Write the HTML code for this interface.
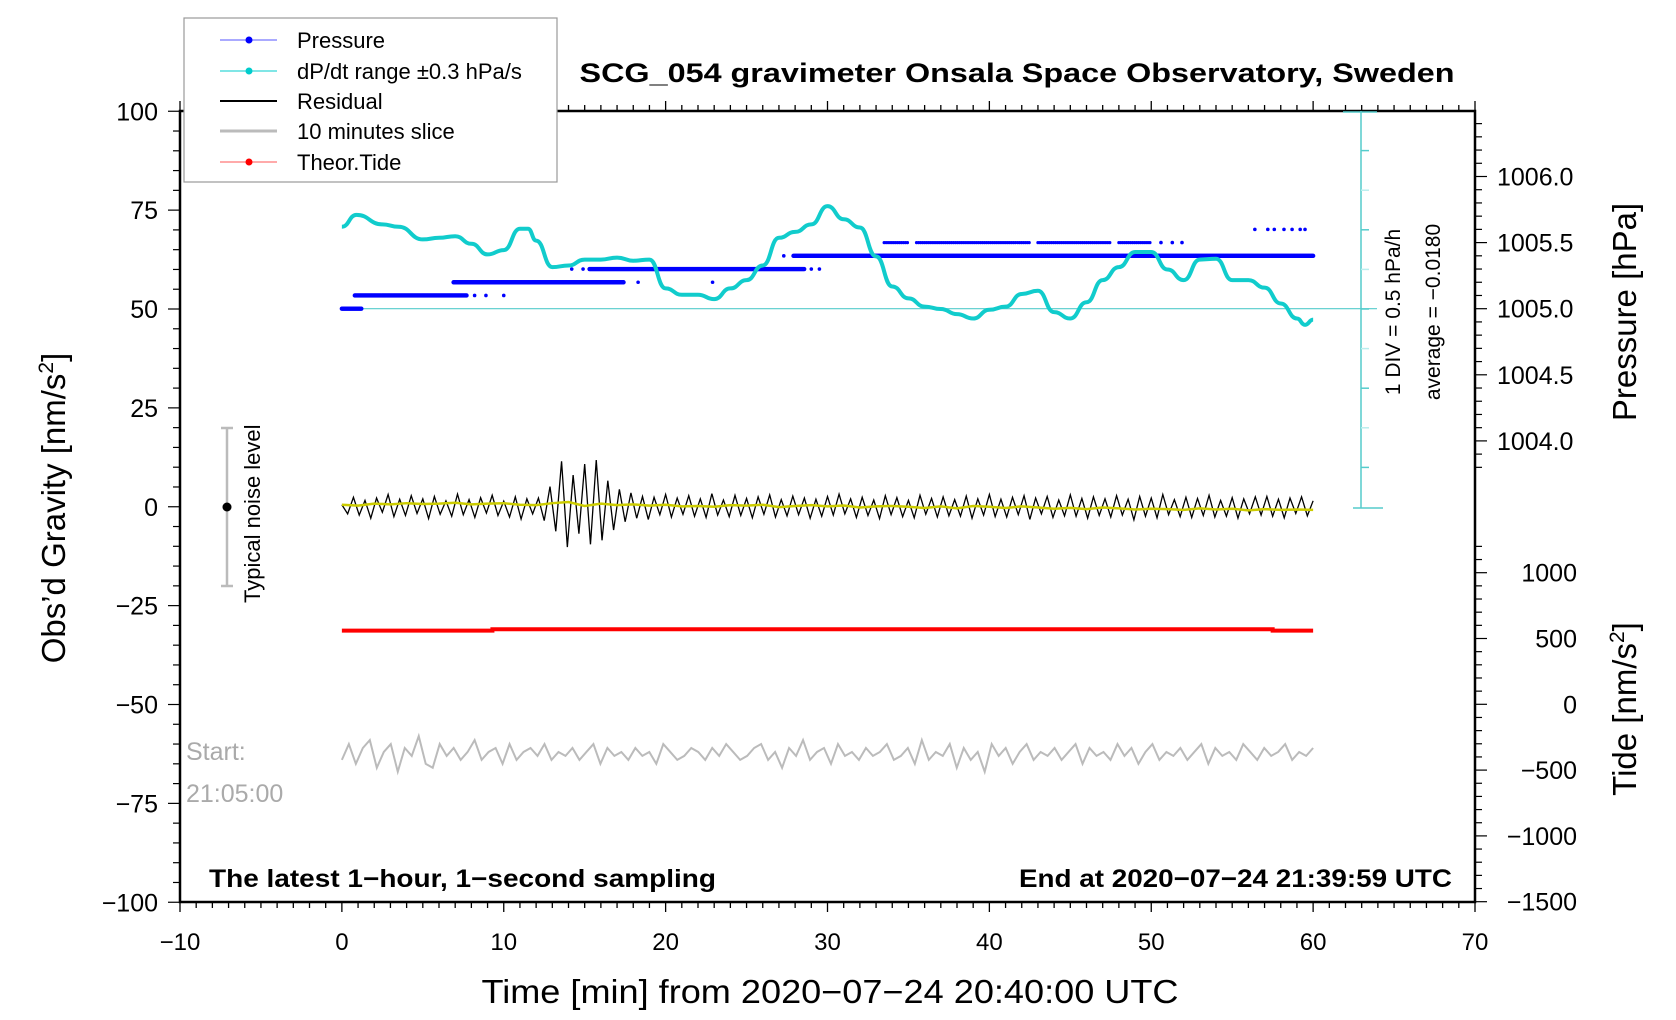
<!DOCTYPE html>
<html><head><meta charset="utf-8"><style>
html,body{margin:0;padding:0;background:#fff}
svg{display:block;font-family:"Liberation Sans",Arial,sans-serif}
</style></head><body>
<svg id="chart" width="1676" height="1020" viewBox="0 0 1676 1020" xmlns="http://www.w3.org/2000/svg">
<rect x="0" y="0" width="1676" height="1020" fill="#fff"/>
<g id="axes"></g>
<g id="marks"></g>
<text x="1017" y="82" text-anchor="middle" font-size="27" font-weight="bold" textLength="875" lengthAdjust="spacingAndGlyphs">SCG_054 gravimeter Onsala Space Observatory, Sweden</text>
<text x="209" y="887" font-size="25" font-weight="bold" textLength="507" lengthAdjust="spacingAndGlyphs">The latest 1−hour, 1−second sampling</text>
<text x="1452" y="887" text-anchor="end" font-size="25" font-weight="bold" textLength="433" lengthAdjust="spacingAndGlyphs">End at 2020−07−24 21:39:59 UTC</text>
<text x="830" y="1003" text-anchor="middle" font-size="33" textLength="697" lengthAdjust="spacingAndGlyphs">Time [min] from 2020−07−24 20:40:00 UTC</text>
<text transform="translate(65,508) rotate(-90)" text-anchor="middle" font-size="33">Obs’d Gravity [nm/s<tspan font-size="21" dy="-12">2</tspan><tspan dy="12">]</tspan></text>
<text transform="translate(1636,312) rotate(-90)" text-anchor="middle" font-size="33">Pressure [hPa]</text>
<text transform="translate(1636,709) rotate(-90)" text-anchor="middle" font-size="33">Tide [nm/s<tspan font-size="21" dy="-12">2</tspan><tspan dy="12">]</tspan></text>
<text transform="translate(1400,312) rotate(-90)" text-anchor="middle" font-size="21">1 DIV = 0.5 hPa/h</text>
<text transform="translate(1440,312) rotate(-90)" text-anchor="middle" font-size="21">average = −0.0180</text>
<g stroke="#bbb" stroke-width="2.5">
<line x1="227" y1="428" x2="227" y2="586"/><line x1="221" y1="428" x2="233" y2="428"/><line x1="221" y1="586" x2="233" y2="586"/>
</g>
<circle cx="227" cy="507" r="4.5" fill="#000"/>
<text transform="translate(260,603) rotate(-90)" font-size="22">Typical noise level</text>
<text x="186" y="760" font-size="25" fill="#aaa">Start:</text>
<text x="186" y="802" font-size="25" fill="#aaa">21:05:00</text>
<g id="legend">
<rect x="184" y="18" width="373" height="164" fill="#fff" stroke="#999" stroke-width="1.2"/>
<g><line x1="220" y1="40" x2="277" y2="40" stroke="#55f" stroke-width="1"/><circle cx="249" cy="40" r="3.5" fill="#00f"/><text x="297" y="48" font-size="22">Pressure</text></g>
<g><line x1="220" y1="71" x2="277" y2="71" stroke="#0cc" stroke-width="1"/><circle cx="249" cy="71" r="3.5" fill="#0cc"/><text x="297" y="79" font-size="22">dP/dt range ±0.3 hPa/s</text></g>
<g><line x1="220" y1="101" x2="277" y2="101" stroke="#000" stroke-width="2"/><text x="297" y="109" font-size="22">Residual</text></g>
<g><line x1="220" y1="131" x2="277" y2="131" stroke="#bbb" stroke-width="3"/><text x="297" y="139" font-size="22">10 minutes slice</text></g>
<g><line x1="220" y1="162" x2="277" y2="162" stroke="#f55" stroke-width="1"/><circle cx="249" cy="162" r="3.5" fill="#f00"/><text x="297" y="170" font-size="22">Theor.Tide</text></g>
</g>
</svg>
<script>
// ---------- data ----------
const xTicks = [-10,0,10,20,30,40,50,60,70];
const gravTicks = [100,75,50,25,0,-25,-50,-75,-100];
const pressTicks = [1006.0,1005.5,1005.0,1004.5,1004.0];
const tideTicks = [1000,500,0,-500,-1000,-1500];
const dpdtTime = [0,0.9,2.5,3.5,5,6,7,8,9,10,11,11.5,12,13,14,15,16,17,18,19,20,21,22,23,24,25,26,27,28,29,30,31,32,33,34,35,36,37,38,39,40,41,42,43,44,45,46,47,48,49,50,51,52,53,54,55,56,57,58,59,59.5,60];
const dpdtValue = [70.8,73.8,71.4,70.8,67.6,68,68.4,66.5,63.8,64.9,70.3,70.3,67.3,60.6,61,62.5,62.5,63,62.2,62.5,55.2,53.6,53.6,52.5,55.2,57.3,61,68,69.5,71.4,76,72.7,70.6,63.3,55.7,52.7,50.6,50,48.7,47.6,49.8,50.6,53.8,54.6,49.2,47.6,51.7,57.3,60.6,64.4,64.4,60,57.3,62.5,62.7,57.3,57.3,55.4,51.4,47.6,46,47.3];
const pressSegStart = [0,0.8,6.9,15.3,27.9];
const pressSegEnd = [1.2,7.7,17.4,28.6,60];
const pressSegLevel = [1005.0,1005.1,1005.2,1005.3,1005.4];
const pressSparseStart = [33.5,35.5,43,48];
const pressSparseEnd = [35.0,42.5,47.5,50];
const pressSparseLevel = [1005.5,1005.5,1005.5,1005.5];
const pressDotTime = [8.2,8.9,10.0,18.3,22.9,14.2,14.9,29.0,29.5,27.3,50.6,51.3,51.9,56.4,57.2,57.6,58.2,58.7,59.2,59.5];
const pressDotLevel = [1005.1,1005.1,1005.1,1005.2,1005.2,1005.3,1005.3,1005.3,1005.3,1005.4,1005.5,1005.5,1005.5,1005.6,1005.6,1005.6,1005.6,1005.6,1005.6,1005.6];
const residual = [0.5,-1.8,2.4,-2.1,1.6,-2.9,2.2,-1.4,3.1,-2.5,1.9,-2.2,2.8,-1.7,2.0,-3.0,2.6,-1.9,1.5,-2.4,3.2,-2.0,1.8,-2.7,2.3,-1.6,2.9,-2.2,1.4,-2.6,2.5,-3.1,2.0,-1.8,
2.2,-3.5,5.1,-6.2,11.5,-10.2,8.0,-6.8,10.8,-9.5,11.8,-8.5,6.6,-5.9,4.4,-3.8,3.5,-2.9,2.6,-3.2,
2.4,-2.0,3.1,-2.6,2.2,-1.9,2.8,-2.4,2.0,-2.7,3.3,-2.1,1.7,-2.5,2.9,-2.2,2.1,-2.8,2.5,-1.9,3.0,-2.6,1.8,-2.3,2.7,-2.0,
2.2,-2.9,1.9,-2.4,2.6,-2.1,3.2,-1.8,2.0,-2.7,2.4,-2.2,1.7,-3.0,2.8,-2.0,2.3,-2.5,1.6,-2.8,2.9,-1.9,2.1,-2.6,2.5,-2.3,
1.8,-2.4,2.7,-2.9,2.0,-2.1,3.1,-2.5,1.9,-2.6,2.4,-2.0,2.8,-3.2,2.2,-1.8,2.6,-2.7,1.7,-2.3,3.0,-2.4,2.1,-2.9,2.5,-2.2,
2.0,-2.6,2.8,-2.1,1.9,-3.3,2.6,-2.4,2.2,-2.8,3.1,-2.0,1.8,-2.5,2.4,-2.7,2.1,-2.2,2.9,-2.6,1.6,-2.4,2.3,-2.9,2.0,-1.8,2.5,
-2.1,2.6,-2.4,1.9,-2.8,2.2,-1.7,2.5,-2.3,1.5];
const smoothed = [0.5,0.3,0.8,0.6,0.9,0.7,0.8,1.0,0.6,0.8,0.9,0.5,0.4,0.9,1.2,0.2,0.8,0.4,0.6,0.3,0.5,0.1,0.2,0.0,0.4,0.3,0.5,-0.1,0.2,0.4,0.1,0.3,-0.2,0.1,0.2,0.0,-0.3,0.1,-0.4,0.2,0.0,-0.3,0.1,-0.2,-0.5,-0.3,-0.6,-0.2,-0.4,-0.7,-0.5,-0.6,-0.8,-0.4,-0.7,-0.5,-0.9,-0.6,-0.8,-0.7,-0.8];
const slice = [-64,-60,-65,-61,-59,-66,-62,-60,-67,-61,-63,-58,-65,-66,-60,-63,-61,-64,-62,-59,-64,-62,-61,-65,-60,-64,-62,-61,-63,-60,-64,-62,-63,-61,-64,-62,-60,-65,-61,-63,
-62,-64,-61,-63,-62,-65,-60,-62,-64,-63,-61,-62,-64,-61,-63,-60,-62,-64,-63,-61,-60,-64,-62,-66,-61,-63,-59,-64,-62,-61,-65,-60,-63,-62,-64,-61,-63,-62,-60,-64,
-63,-61,-65,-59,-64,-62,-63,-60,-66,-61,-64,-62,-67,-60,-63,-61,-65,-62,-60,-64,-62,-63,-61,-64,-62,-60,-65,-61,-63,-62,-64,-60,-63,-61,-65,-62,-60,-64,-62,-63,
-61,-64,-62,-60,-65,-61,-63,-62,-64,-60,-62,-64,-61,-63,-62,-60,-64,-62,-63,-61];
const tideTime = [0,9.3,9.3,57.5,57.5,60];
const tideValue = [560,560,570,570,560,560];

// ---------- scales ----------
const X = t => 180 + (t + 10) * 16.1875;
const Y = g => 506.75 - g * 3.955;
const P = p => 308.7 - (p - 1005) * 132.2;
const T = v => 704.3 - v * 0.1316;
const NS = 'http://www.w3.org/2000/svg';
const axes = document.getElementById('axes');
const marks = document.getElementById('marks');
function mk(tag, attrs, parent){const e=document.createElementNS(NS,tag);for(const k in attrs)e.setAttribute(k,attrs[k]);parent.appendChild(e);return e;}
const fmtMinus = s => String(s).replace('-', '−');

const frame = mk('rect',{x:180,y:111,width:1295,height:791,fill:'none',stroke:'#000','stroke-width':2.5},axes);


for (let t=-10;t<=70;t++){
  const major = t%10===0;
  const len = major?10:6;
  mk('line',{x1:X(t),y1:902,x2:X(t),y2:902+len,stroke:'#000','stroke-width':1.3},axes);
  mk('line',{x1:X(t),y1:111,x2:X(t),y2:111-len,stroke:'#000','stroke-width':1.3},axes);
}
xTicks.forEach(t=>{
  const e = mk('text',{x:X(t),y:950,'text-anchor':'middle','font-size':24},axes);
  e.textContent = fmtMinus(t);
  
  
});
for (let g=-100; g<=100; g+=5){
  const len = g%25===0?12:7;
  mk('line',{x1:180-len,y1:Y(g),x2:180,y2:Y(g),stroke:'#000','stroke-width':1.2},axes);
}
gravTicks.forEach(g=>{
  const e = mk('text',{x:158,y:Y(g)+9,'text-anchor':'end','font-size':25},axes);
  e.textContent = fmtMinus(g);
  
  
});
for (let i=0;i<=26;i++){
  const p = 1003.8 + i*0.1;
  const y = P(p);
  if (y<112||y>470) continue;
  const major = i%5===2;
  mk('line',{x1:1475,y1:y,x2:1475+(major?12:7),y2:y,stroke:'#000','stroke-width':1.2},axes);
}
pressTicks.forEach(p=>{
  const e = mk('text',{x:1497,y:P(p)+9,'font-size':25},axes);
  e.textContent = p.toFixed(1);
  
  
});
for (let v=-1500; v<=1200; v+=100){
  const y=T(v); if (y<540) continue;
  mk('line',{x1:1475,y1:y,x2:1475+(v%500===0?12:7),y2:y,stroke:'#000','stroke-width':1.2},axes);
}
tideTicks.forEach(v=>{
  const e = mk('text',{x:1577,y:T(v)+9,'text-anchor':'end','font-size':25},axes);
  e.textContent = fmtMinus(v);
  
  
});
const cs = mk('g',{stroke:'#5cc','stroke-width':1.5},axes);


mk('line',{x1:1361,y1:111,x2:1361,y2:508},cs);
for (let i=1;i<=9;i++) mk('line',{x1:1361,y1:111+i*39.6,x2:1369,y2:111+i*39.6,stroke:(i%2?'#5cc':'#bee')},cs);
mk('line',{x1:1353,y1:508,x2:1383,y2:508},cs);
mk('line',{x1:1343,y1:112,x2:1377,y2:112},cs);
mk('line',{x1:X(0),y1:P(1005),x2:1377,y2:P(1005),'stroke-width':1.2},cs);

// ---------- series ----------
const tidePath = mk('polyline',{points:tideTime.map((t,i)=>X(t)+','+T(tideValue[i])).join(' '),fill:'none',stroke:'#f00','stroke-width':4},marks);


const slPath = mk('polyline',{points:slice.map((v,i)=>X(i*60/(slice.length-1))+','+Y(v)).join(' '),fill:'none',stroke:'#bbb','stroke-width':2},marks);


const resPath = mk('polyline',{points:residual.map((v,i)=>X(i*60/(residual.length-1))+','+Y(v)).join(' '),fill:'none',stroke:'#000','stroke-width':1.3},marks);


const smPath = mk('polyline',{points:smoothed.map((v,i)=>X(i*60/(smoothed.length-1))+','+Y(v)).join(' '),fill:'none',stroke:'#cc0','stroke-width':2.5},marks);


const pg = mk('g',{fill:'#00f'},marks);


pressSegStart.forEach((s,k)=>{
  for (let t=s; t<=pressSegEnd[k]+1e-9; t+=0.06){
    mk('circle',{cx:X(t),cy:P(pressSegLevel[k]),r:2.2},pg);
  }
});
pressSparseStart.forEach((s,k)=>{
  for (let t=s; t<=pressSparseEnd[k]+1e-9; t+=0.12){
    mk('circle',{cx:X(t),cy:P(pressSparseLevel[k]),r:1.6},pg);
  }
});
pressDotTime.forEach((t,k)=>{
  const c = mk('circle',{cx:X(t),cy:P(pressDotLevel[k]),r:1.8},pg);
  
  
});
let d='';
for (let i=0;i<dpdtTime.length;i++){
  const x=X(dpdtTime[i]), y=Y(dpdtValue[i]);
  if(i===0){d+='M'+x+','+y;continue;}
  const x0=X(dpdtTime[i-1]), y0=Y(dpdtValue[i-1]);
  const xm=(x0+x)/2;
  d+=' C'+xm+','+y0+' '+xm+','+y+' '+x+','+y;
}
const cp = mk('path',{d:d,fill:'none',stroke:'#1cc','stroke-width':4,'stroke-linejoin':'round'},marks);


</script>
</body></html>
